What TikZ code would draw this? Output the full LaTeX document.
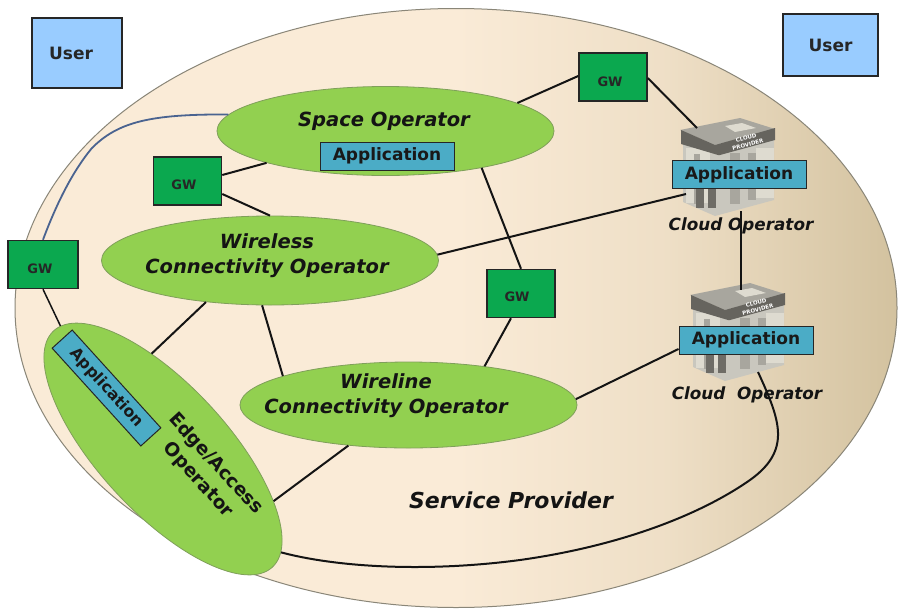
\documentclass[tikz,border=0pt]{standalone}
\usepackage{fontspec}
\setmainfont{DejaVu Sans}
\usetikzlibrary{shapes.geometric}
\definecolor{bgA}{HTML}{FAEBD7}
\definecolor{bgB}{HTML}{D3C29F}
\definecolor{ringc}{HTML}{8A8678}
\definecolor{ellc}{HTML}{92D050}
\definecolor{elld}{HTML}{7F9F5A}
\definecolor{gwc}{HTML}{0BA84F}
\definecolor{userc}{HTML}{99CCFF}
\definecolor{appc}{HTML}{4BACC6}
\definecolor{wire}{HTML}{141414}
\definecolor{bluewire}{HTML}{4A6390}
\definecolor{iconA}{HTML}{C9C7BE}
\definecolor{iconB}{HTML}{DEDBD0}
\definecolor{iconC}{HTML}{A8A69E}
\definecolor{iconD}{HTML}{6E6C66}
\definecolor{iconE}{HTML}{66645E}
\pgfdeclarehorizontalshading{ringshade}{100bp}{color(0bp)=(bgA); color(50bp)=(bgA); color(62bp)=(bgA!70!bgB); color(75bp)=(bgB); color(100bp)=(bgB)}
\tikzset{
  x=1pt,y=-1pt,
  oper/.style={ellipse,draw=elld,line width=0.8pt,fill=ellc,inner sep=0pt,minimum width=337pt,minimum height=89pt},
  gwbox/.style={draw=black!85,line width=1.5pt,fill=gwc,inner sep=0pt,minimum width=68pt,minimum height=48pt},
  gwtext/.style={inner sep=0pt,font=\bfseries\fontsize{13}{14}\selectfont,text=black!85},
  userbox/.style={draw=black!85,line width=1.6pt,fill=userc,inner sep=0pt,font=\bfseries\fontsize{17}{19}\selectfont,text=black!85},
  appbox/.style={draw=black!85,line width=1pt,fill=appc,inner sep=0pt,minimum width=134pt,minimum height=28pt,font=\bfseries\fontsize{17}{19}\selectfont,text=black!90},
  oplabel/.style={inner sep=0pt,font=\bfseries\itshape\fontsize{19.5}{25}\selectfont,align=center,text=black!92},
  cloudlabel/.style={inner sep=0pt,font=\bfseries\itshape\fontsize{16.8}{18}\selectfont,text=black!92},
  link/.style={draw=wire,line width=2pt},
  cloudicon/.pic={
    \fill[iconA] (3,24) -- (3,84) -- (35,98) -- (94,82) -- (94,22) -- cycle;
    \fill[iconB] (6,30) rectangle (30,85);
    \fill[iconC] (14,36) rectangle (20,86);
    \fill[iconD] (16,66) rectangle (24,90);
    \fill[iconD] (28,66) rectangle (36,90);
    \fill[iconC] (50,35) rectangle (60,86);
    \fill[iconC] (68,35) rectangle (76,82);
    \fill[iconB] (76,30) rectangle (94,80);
    \fill[iconC] (0,12) -- (60,0) -- (95,11) -- (35,27) -- cycle;
    \fill[iconB] (45,8) -- (62,5) -- (76,10) -- (55,14) -- cycle;
    \fill[iconE] (1,12) -- (35,27) -- (95,10) -- (95,22) -- (40,37) -- (38,37) -- (1,26) -- cycle;
    \node[rotate=14,inner sep=0pt,align=center,text=white,font=\bfseries\fontsize{5.5}{7}\selectfont] at (67,23) {CLOUD\\PROVIDER};
  }
}
\begin{document}
\begin{tikzpicture}
\useasboundingbox (0,0) rectangle (901,608);
\fill[white] (0,0) rectangle (901,608);
% service provider area
\node[ellipse,draw=ringc,line width=1pt,shading=ringshade,inner sep=0pt,minimum width=882pt,minimum height=599pt] (provider) at (456,308) {};
% cloud operators
\pic at (680,118) {cloudicon};
\pic at (690,283) {cloudicon};
\coordinate (cloudAtop) at (697,128);
\coordinate (cloudAbase) at (741,211);
\coordinate (cloudAleft) at (686,194);
\coordinate (cloudBtop) at (741,290);
\coordinate (cloudBfoot) at (758,372);
% operators
\node[oper] (space) at (385.5,131) {};
\node[oper] (wireless) at (270,260.5) {};
\node[oper,minimum height=86pt] (wireline) at (408.5,405) {};
\node[oper,minimum width=322pt,minimum height=128pt,rotate=-47.2] (edge) at (163,449) {};
% boxes
\node[gwbox] (gwA) at (613,77) {};
\node[gwtext] (gwAt) at (610,82) {GW};
\node[gwbox] (gwB) at (187.5,181) {};
\node[gwtext] (gwBt) at (184,185) {GW};
\node[gwbox,minimum width=70pt] (gwC) at (43,264.5) {};
\node[gwtext] (gwCt) at (40,269) {GW};
\node[gwbox] (gwD) at (521,293.5) {};
\node[gwtext] (gwDt) at (517,297) {GW};
\node[userbox,minimum width=90pt,minimum height=70pt] (userA) at (77,53) {};
\node[inner sep=0pt,font=\bfseries\fontsize{17}{19}\selectfont,text=black!85] (userAt) at (71,53) {User};
\node[userbox,minimum width=95pt,minimum height=62pt] (userB) at (830.5,45) {User};
\node[appbox] (appSpace) at (387,156) {Application};
\node[appbox] (appA) at (739,174.5) {Application};
\node[appbox] (appB) at (746,340) {Application};
\node[appbox,minimum width=132pt,minimum height=27pt,rotate=-47.8,font=\bfseries\fontsize{15.8}{18}\selectfont] (appEdge) at (106.5,388) {Application};
% labels
\node[oplabel] (tSpace) at (384,121) {Space Operator};
\node[oplabel] (tWireless) at (267,256) {Wireless\\Connectivity Operator};
\node[oplabel] (tWireline) at (386,395.5) {Wireline\\Connectivity Operator};
\node[inner sep=0pt,rotate=-47.5,align=center,font=\bfseries\fontsize{18.5}{24}\selectfont,text=black!92] (tEdge) at (207,472) {Edge/Access\\Operator};
\node[inner sep=0pt,font=\bfseries\itshape\fontsize{22}{24}\selectfont,text=black!92] (tProvider) at (511,500) {Service Provider};
\node[cloudlabel] (tCloudA) at (741,226) {Cloud Operator};
\node[cloudlabel] (tCloudB) at (747,395) {Cloud\ \ Operator};
% connectors
\draw[link] (gwA.west |- 0,76) -- (space.12);
\draw[link] (gwA.east |- 0,78) -- (cloudAtop);
\draw[link] (gwB.east |- 0,175) -- (space.195);
\draw[link] (gwB.east |- 0,194) -- (wireless.90);
\draw[link,line width=1.5pt] (gwC.south -| 43,0) -- (edge.177.5);
\draw[link] (wireless.213) -- (edge.144);
\draw[link] (wireless.260) -- (wireline.167);
\draw[link] (wireless.2) -- (cloudAleft);
\draw[link] (space.339) -- (gwD.north);
\draw[link] (gwD.south -| 511,0) -- (wireline.27);
\draw[link] (wireline.2) -- (appB.west |- 0,349);
\draw[link] (wireline.214) -- (edge.22);
\draw[link,line width=2.6pt] (cloudAbase) -- (cloudBtop);
\draw[bluewire,line width=1.8pt] (space.174) .. controls (150,114) and (118,122) .. (92,148) .. controls (72,172) and (56,205) .. (gwC.north);
\draw[link] (edge.6) .. controls (340,568) and (430,572) .. (520,560) .. controls (620,546) and (700,515) .. (750,480) .. controls (792,450) and (780,420) .. (cloudBfoot);
\end{tikzpicture}
\end{document}
